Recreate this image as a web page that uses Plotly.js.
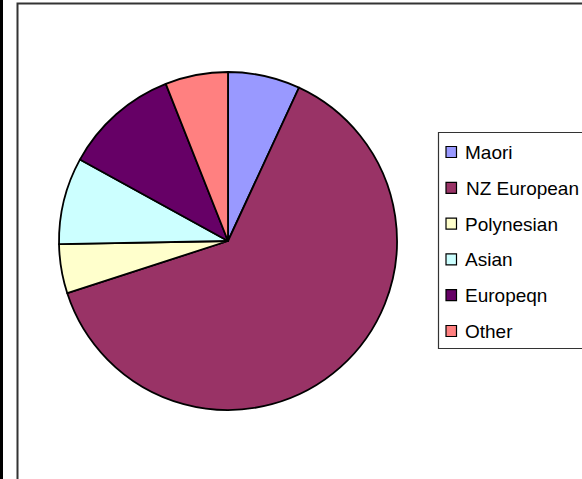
<!DOCTYPE html>
<html>
<head>
<meta charset="utf-8">
<script src="https://cdn.plot.ly/plotly-3.0.1.min.js"></script>
<style>
  html, body { margin: 0; padding: 0; background: #fff; }
  #chart { width: 582px; height: 479px; }
</style>
</head>
<body>
<div id="chart"></div>
<script>
// Data
const categories = ["Maori", "NZ European", "Polynesian", "Asian", "Europeqn", "Other"];
const values = [6.9, 63.1, 4.7, 8.3, 11.0, 6.0];
const colors = ["#9999FF", "#993366", "#FFFFCC", "#CCFFFF", "#660066", "#FF8080"];

const W = 582, H = 479;
const px = x => x / W;
const py = y => 1 - y / H;

// Pie geometry (pixels)
const cx = 228, cy = 241, r = 169;

const trace = {
  type: "pie",
  labels: categories,
  values: values,
  sort: false,
  direction: "clockwise",
  rotation: 0,
  textinfo: "none",
  hoverinfo: "label+percent",
  showlegend: false,
  marker: { colors: colors, line: { color: "#000000", width: 1.8 } },
  domain: { x: [px(cx - r), px(cx + r)], y: [py(cy + r), py(cy - r)] }
};

const shapes = [
  // left dark edge
  { type: "rect", xref: "paper", yref: "paper", x0: px(0), x1: px(3), y0: 0, y1: 1,
    fillcolor: "#000", line: { width: 0 }, layer: "below" },
  // chart area frame (left + top)
  { type: "path", xref: "paper", yref: "paper",
    path: `M ${px(17.5)} ${py(480)} L ${px(17.5)} ${py(3.5)} L ${px(590)} ${py(3.5)}`,
    line: { color: "#333333", width: 2 } },
  // legend box
  { type: "rect", xref: "paper", yref: "paper",
    x0: px(438.5), x1: px(600), y0: py(348.5), y1: py(132.5),
    fillcolor: "rgba(0,0,0,0)", line: { color: "#333333", width: 1.2 } }
];

const annotations = [];
const legTop = 152, legStep = 35.8;
categories.forEach((name, i) => {
  const yc = legTop + i * legStep;
  shapes.push({ type: "rect", xref: "paper", yref: "paper",
    x0: px(446), x1: px(456.5), y0: py(yc + 5.5), y1: py(yc - 5.5),
    fillcolor: colors[i], line: { color: "#000000", width: 1.2 } });
  annotations.push({ xref: "paper", yref: "paper", x: px(463.5), y: py(yc + 0.5),
    xanchor: "left", yanchor: "middle", showarrow: false, text: name,
    font: { family: "Liberation Sans, Arial, sans-serif", size: 19, color: "#000" } });
});

const layout = {
  width: W, height: H,
  margin: { l: 0, r: 0, t: 0, b: 0 },
  paper_bgcolor: "#ffffff",
  plot_bgcolor: "#ffffff",
  showlegend: false,
  shapes: shapes,
  annotations: annotations
};

Plotly.newPlot("chart", [trace], layout, { displayModeBar: false, staticPlot: true });
</script>
</body>
</html>
